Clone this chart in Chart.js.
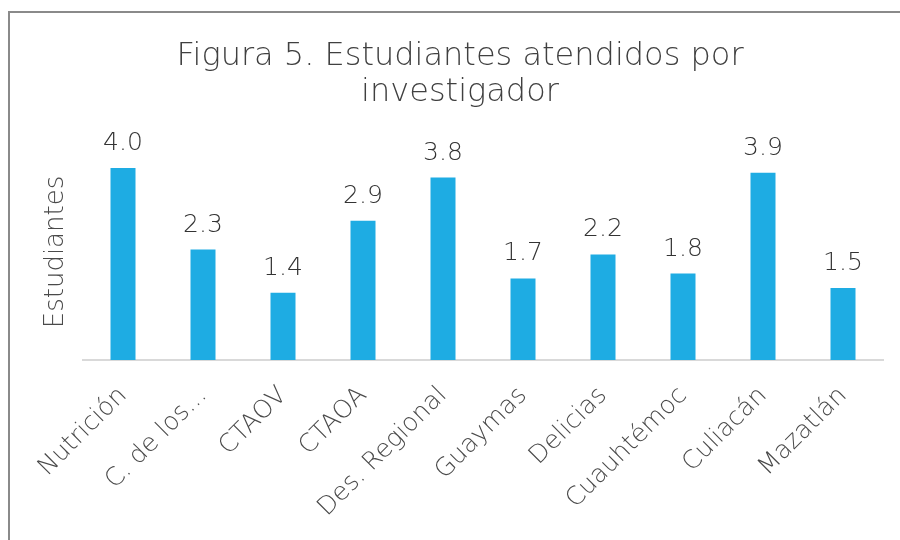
<!DOCTYPE html>
<html>
<head>
<meta charset="utf-8">
<script src="https://cdn.jsdelivr.net/npm/chart.js@4"></script>
<style>
  html, body { margin: 0; padding: 0; background: #fff; }
  #wrap { width: 900px; height: 540px; }
</style>
</head>
<body>
<div id="wrap"><canvas id="chart"></canvas></div>
<script>
// data
const categories = ['Nutrición', 'C. de los...', 'CTAOV', 'CTAOA', 'Des. Regional', 'Guaymas', 'Delicias', 'Cuauhtémoc', 'Culiacán', 'Mazatlán'];
const estudiantes = [4.0, 2.3, 1.4, 2.9, 3.8, 1.7, 2.2, 1.8, 3.9, 1.5];

const FONT = "'DejaVu Sans', sans-serif";
const GRAY = '#4a4a4a';

// gray frame around the whole chart
const framePlugin = {
    id: 'frame',
    beforeDraw(chart) {
        const ctx = chart.ctx;
        ctx.save();
        ctx.strokeStyle = '#8a8a8a';
        ctx.lineWidth = 2;
        ctx.strokeRect(9, 12, 1000, 1000);
        ctx.restore();
    },
};

// value labels above each bar
const valueLabels = {
    id: 'valueLabels',
    afterDatasetsDraw(chart) {
        const ctx = chart.ctx;
        const meta = chart.getDatasetMeta(0);
        ctx.save();
        ctx.font = '300 25px ' + FONT;
        ctx.fillStyle = '#333333';
        ctx.textAlign = 'center';
        ctx.textBaseline = 'alphabetic';
        meta.data.forEach((bar, i) => {
            ctx.fillText(estudiantes[i].toFixed(1), bar.x, bar.y - 18);
        });
        ctx.restore();
    },
};

new Chart(document.getElementById('chart').getContext('2d'), {
    type: 'bar',
    data: {
        labels: categories,
        datasets: [{
            label: 'Estudiantes',
            data: estudiantes,
            backgroundColor: '#1EACE3',
            barPercentage: 0.625,
            categoryPercentage: 0.5,
        }],
    },
    options: {
        responsive: true,
        maintainAspectRatio: false,
        animation: false,
        layout: { padding: { left: 37, right: 17, top: 0, bottom: 0 } },
        plugins: {
            legend: { display: false },
            tooltip: { enabled: false },
            title: {
                display: true,
                text: ['Figura 5. Estudiantes atendidos por', 'investigador'],
                color: '#404040',
                font: { family: FONT, size: 32, weight: 300, lineHeight: 1.125 },
                padding: { top: 39, bottom: 33 },
            },
        },
        scales: {
            x: {
                grid: { display: false },
                border: { color: '#d9d9d9', width: 2 },
                ticks: {
                    color: GRAY,
                    font: { family: FONT, size: 25, weight: 300 },
                    maxRotation: 45,
                    minRotation: 45,
                    padding: 13,
                },
                afterFit(scale) { scale.height = 180; },
            },
            y: {
                min: 0,
                max: 4.5,
                grid: { display: false },
                border: { display: false },
                ticks: { display: false },
                title: {
                    display: true,
                    text: 'Estudiantes',
                    color: GRAY,
                    font: { family: FONT, size: 26, weight: 300 },
                    padding: { top: 4, bottom: 4 },
                },
                afterFit(scale) { scale.width = 46; },
            },
        },
    },
    plugins: [framePlugin, valueLabels],
});
</script>
</body>
</html>
